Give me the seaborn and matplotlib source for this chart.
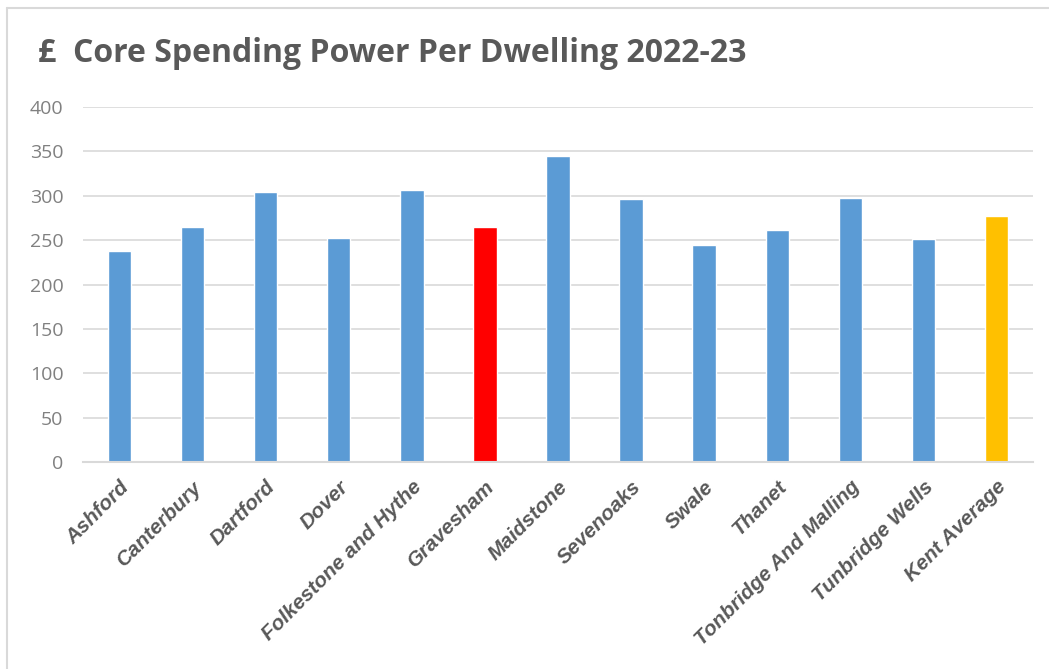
import matplotlib.pyplot as plt
import seaborn as sns
import pandas as pd
from matplotlib.lines import Line2D

## Data
districts = ['Ashford', 'Canterbury', 'Dartford', 'Dover', 'Folkestone and Hythe',
             'Gravesham', 'Maidstone', 'Sevenoaks', 'Swale', 'Thanet',
             'Tonbridge And Malling', 'Tunbridge Wells', 'Kent Average']
spend_per_dwelling = [238, 265, 304, 252, 306, 265, 345, 296, 244, 261, 297, 251, 277]
bar_colours = ['#5b9bd5'] * 5 + ['#ff0000'] + ['#5b9bd5'] * 6 + ['#ffc000']

df = pd.DataFrame({'District': districts, 'Spend': spend_per_dwelling})

sns.set_style('white')
plt.rcParams['font.family'] = ['Open Sans', 'DejaVu Sans']

W, H = 1049, 669
fig = plt.figure(figsize=(W / 100, H / 100), dpi=100)
ax = fig.add_axes([83 / W, 1 - 462 / H, 950 / W, 355 / H])

sns.barplot(data=df, x='District', y='Spend', hue='District', palette=bar_colours,
            width=0.32, legend=False, ax=ax, saturation=1)

ax.set_ylim(0, 400)
ax.set_yticks(range(0, 401, 50))
ax.yaxis.grid(True, color='#d9d9d9', linewidth=1.2)
ax.set_axisbelow(True)
for s in ['top', 'right', 'left']:
    ax.spines[s].set_visible(False)
ax.spines['bottom'].set_color('#d9d9d9')
ax.spines['bottom'].set_linewidth(1.5)
ax.set_xlabel('')
ax.set_ylabel('')
ax.tick_params(axis='both', length=0)
ax.tick_params(axis='y', labelsize=14, labelcolor='#808080', pad=14)
ax.set_xticks(range(len(districts)))
ax.set_xticklabels(districts, rotation=45, ha='right', rotation_mode='anchor',
                   fontsize=15, fontweight='bold', fontstyle='italic',
                   color='#595959', family='Liberation Sans')
ax.tick_params(axis='x', pad=11)

fig.text(38 / W, 1 - 53 / H, '£  Core Spending Power Per Dwelling 2022-23',
         fontsize=23, fontweight='bold', color='#595959', va='center', ha='left')

# chart border (top and left edges only)
fig.lines.append(Line2D([7 / W, 1], [1 - 8 / H, 1 - 8 / H], transform=fig.transFigure,
                        color='#d9d9d9', linewidth=1.5))
fig.lines.append(Line2D([7 / W, 7 / W], [0, 1 - 8 / H], transform=fig.transFigure,
                        color='#d9d9d9', linewidth=1.5))

fig.savefig('out.png', dpi=100)
